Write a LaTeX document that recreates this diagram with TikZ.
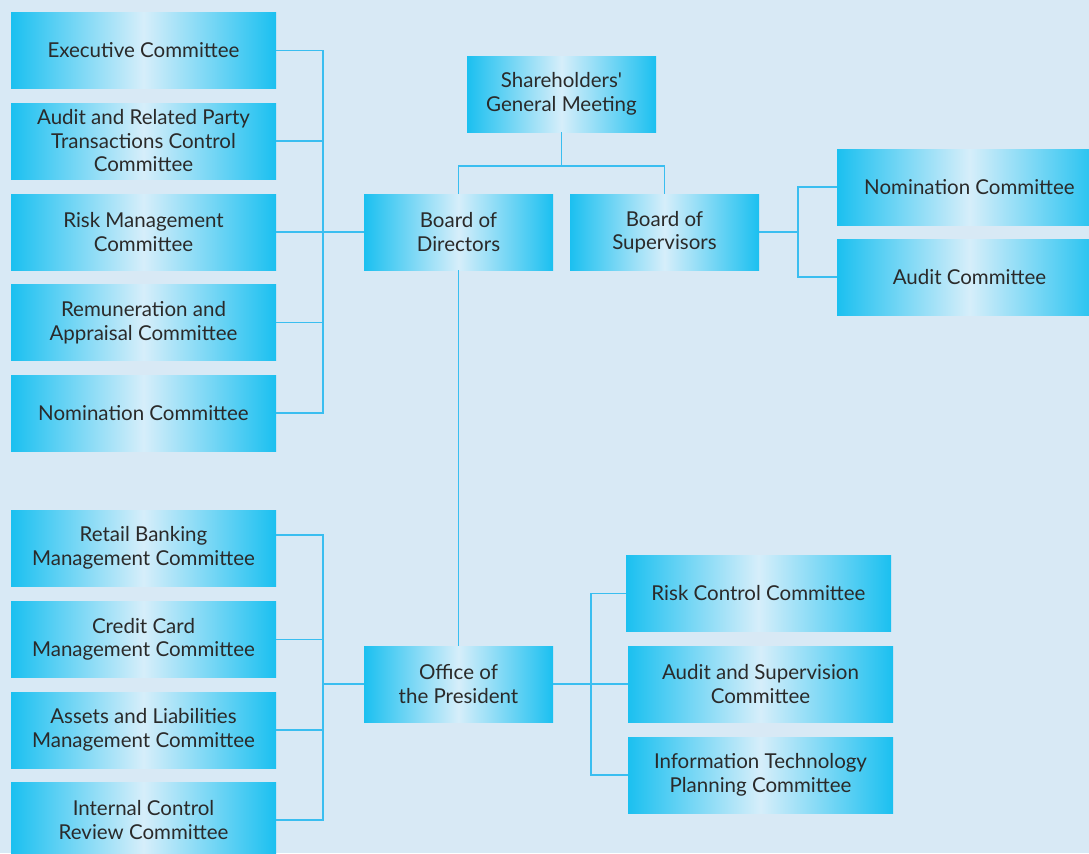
\documentclass[tikz,border=0pt]{standalone}
\usepackage{fontspec}
\setmainfont{Lato}
\definecolor{bgblue}{HTML}{D8E9F5}
\definecolor{boxcyan}{HTML}{1BC0F0}
\definecolor{boxlight}{HTML}{D6EEFA}
\definecolor{linecyan}{HTML}{3ABEF0}
\definecolor{textgray}{HTML}{2A2A2A}
\begin{document}
\begin{tikzpicture}[x=0.5pt,y=-0.5pt]
\tikzstyle{comm}=[rectangle,minimum width=132.5pt,minimum height=38pt,inner sep=0pt,align=center,left color=boxcyan,right color=boxcyan,middle color=boxlight,text=textgray,font=\fontsize{10.25}{11.75}\selectfont]
\tikzstyle{small}=[minimum width=94.5pt]
\tikzstyle{link}=[draw=linecyan,line width=0.75pt]
\fill[bgblue] (0,0) rectangle (1089,853);
\useasboundingbox (0,0) rectangle (1089,853);
\node[comm] (exec) at (143.5,50.5) {Executive Committee};
\node[comm] (audrel) at (143.5,141) {Audit and Related Party\\Transactions Control\\Committee};
\node[comm] (riskmgmt) at (143.5,232) {Risk Management\\Committee};
\node[comm] (remun) at (143.5,322.5) {Remuneration and\\Appraisal Committee};
\node[comm] (nomin) at (143.5,413) {Nomination Committee};
\node[comm,small] (sgm) at (561.5,94) {Shareholders\textquotesingle\\General Meeting};
\node[comm,small] (bod) at (458.5,232) {Board of\\Directors};
\node[comm,small] (bos) at (664.5,232) {Board of\\Supervisors};
\node[comm] (nombos) at (969.5,187) {Nomination Committee};
\node[comm] (auditbos) at (969.5,277) {Audit Committee};
\node[comm,small] (president) at (458.5,684) {Office of\\the President};
\node[comm] (retail) at (143.5,548) {Retail Banking\\Management Committee};
\node[comm] (credit) at (143.5,639.5) {Credit Card\\Management Committee};
\node[comm] (alco) at (143.5,730) {Assets and Liabilities\\Management Committee};
\node[comm] (icr) at (143.5,820) {Internal Control\\Review Committee};
\node[comm] (riskctl) at (758.5,593.5) {Risk Control Committee};
\node[comm] (audsup) at (760.5,684) {Audit and Supervision\\Committee};
\node[comm] (itplan) at (760.5,775) {Information Technology\\Planning Committee};
\coordinate (topbus) at (323,0);
\coordinate (split) at (561.5,166);
\coordinate (rbus) at (798,0);
\coordinate (botbus) at (323,0);
\coordinate (rbbus) at (591,0);
\draw[link] (exec.east) -- (exec.east -| topbus) -- (nomin.east -| topbus) -- (nomin.east);
\foreach \n in {audrel,riskmgmt,remun} \draw[link] (\n.east) -- (\n.east -| topbus);
\draw[link] (riskmgmt.east -| topbus) -- (bod.west);
\draw[link] (sgm.south) -- (split);
\draw[link] (bod.north) |- (split) -| (bos.north);
\draw[link] (bos.east) -- (bos.east -| rbus);
\draw[link] (nombos.west) -- (nombos.west -| rbus) -- (auditbos.west -| rbus) -- (auditbos.west);
\draw[link] (bod.south) -- (president.north);
\draw[link] ([yshift=6.5pt]retail.east) -- ([yshift=6.5pt]retail.east -| botbus) -- (icr.east -| botbus) -- (icr.east);
\foreach \n in {credit,alco} \draw[link] (\n.east) -- (\n.east -| botbus);
\draw[link] (president.west) -- (president.west -| botbus);
\draw[link] (riskctl.west) -- (riskctl.west -| rbbus) -- (itplan.west -| rbbus) -- (itplan.west);
\draw[link] (president.east) -- (audsup.west);
\end{tikzpicture}
\end{document}
